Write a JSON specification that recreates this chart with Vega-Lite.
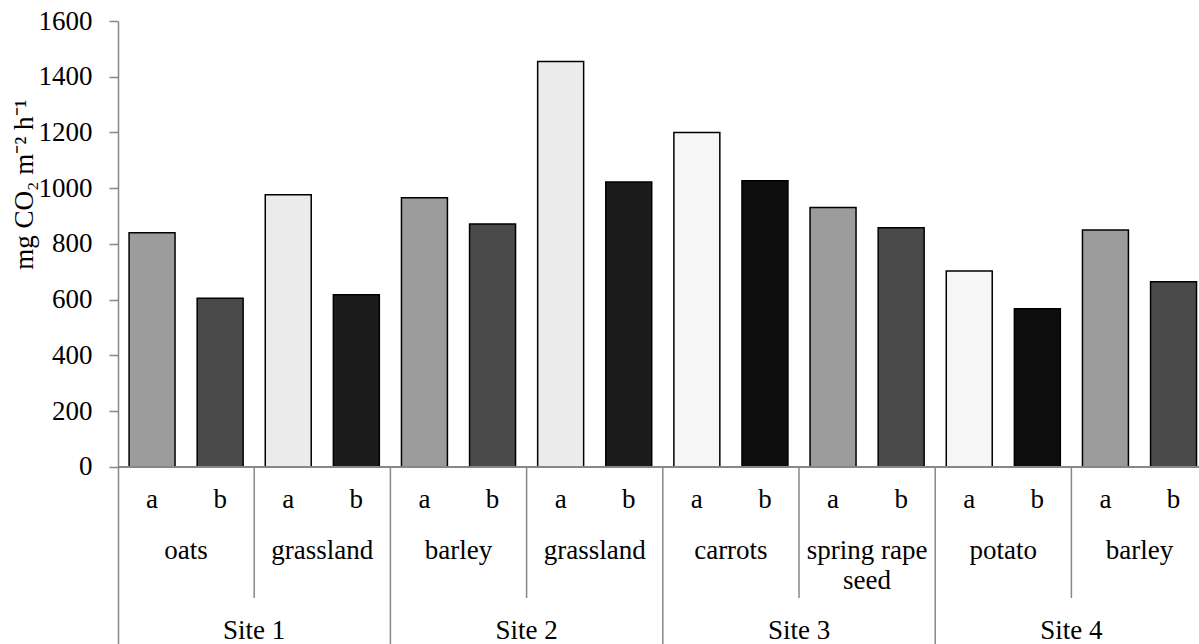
{
  "$schema": "https://vega.github.io/schema/vega-lite/v6.json",
  "width": 1081,
  "height": 623,
  "autosize": {"type": "none"},
  "padding": {"left": 118, "top": 21, "right": 0, "bottom": 0},
  "background": "white",
  "config": {
    "view": {"stroke": null},
    "font": "Liberation Serif",
    "text": {"font": "Liberation Serif", "fontSize": 27, "color": "black"}
  },
  "data": {
    "values": [
      {"id": 1, "site": "Site 1", "crop": "oats", "trt": "a", "value": 840},
      {"id": 2, "site": "Site 1", "crop": "oats", "trt": "b", "value": 605},
      {"id": 3, "site": "Site 1", "crop": "grassland", "trt": "a", "value": 977},
      {"id": 4, "site": "Site 1", "crop": "grassland", "trt": "b", "value": 618},
      {"id": 5, "site": "Site 2", "crop": "barley", "trt": "a", "value": 966},
      {"id": 6, "site": "Site 2", "crop": "barley", "trt": "b", "value": 872},
      {"id": 7, "site": "Site 2", "crop": "grassland", "trt": "a", "value": 1455},
      {"id": 8, "site": "Site 2", "crop": "grassland", "trt": "b", "value": 1022},
      {"id": 9, "site": "Site 3", "crop": "carrots", "trt": "a", "value": 1200},
      {"id": 10, "site": "Site 3", "crop": "carrots", "trt": "b", "value": 1027},
      {"id": 11, "site": "Site 3", "crop": "spring rape seed", "trt": "a", "value": 931},
      {"id": 12, "site": "Site 3", "crop": "spring rape seed", "trt": "b", "value": 858},
      {"id": 13, "site": "Site 4", "crop": "potato", "trt": "a", "value": 703},
      {"id": 14, "site": "Site 4", "crop": "potato", "trt": "b", "value": 568},
      {"id": 15, "site": "Site 4", "crop": "barley", "trt": "a", "value": 850},
      {"id": 16, "site": "Site 4", "crop": "barley", "trt": "b", "value": 665}
    ]
  },
  "encoding": {
    "y": {"field": "value", "type": "quantitative",
          "scale": {"domain": [-635, 1600], "nice": false, "zero": false},
          "axis": {
            "values": [0, 200, 400, 600, 800, 1000, 1200, 1400, 1600],
            "format": "d",
            "grid": false,
            "domainColor": "#878787", "domainWidth": 1.5,
            "tickColor": "#878787", "tickWidth": 1.5, "tickSize": 9,
            "labelFont": "Liberation Serif", "labelFontSize": 27, "labelColor": "black",
            "labelPadding": 17,
            "title": "mg CO₂ m⁻² h⁻¹",
            "titleFont": "Liberation Serif", "titleFontSize": 27, "titleFontWeight": "normal",
            "titleColor": "black", "titleAngle": -90, "titleAlign": "center",
            "titleBaseline": "alphabetic", "titleX": -86, "titleY": 163
          }}
  },
  "layer": [
    {
      "mark": {"type": "bar", "stroke": "black", "strokeWidth": 1.5, "width": {"band": 0.675}},
      "encoding": {
        "x": {"field": "id", "type": "ordinal", "axis": null,
              "scale": {"paddingInner": 0, "paddingOuter": 0, "range": [0, 1089.6]}},
        "fill": {
          "condition": [
            {"test": "datum.crop == 'grassland' && datum.trt == 'a'", "value": "#ebebeb"},
            {"test": "datum.crop == 'grassland'", "value": "#1c1c1c"},
            {"test": "(datum.crop == 'carrots' || datum.crop == 'potato') && datum.trt == 'a'", "value": "#f6f6f6"},
            {"test": "datum.crop == 'carrots' || datum.crop == 'potato'", "value": "#0e0e0e"},
            {"test": "datum.trt == 'a'", "value": "#9c9c9c"}
          ],
          "value": "#4a4a4a"
        }
      }
    },
    {
      "mark": {"type": "rule", "color": "#878787", "strokeWidth": 1.5},
      "encoding": {"y": {"datum": 0, "type": "quantitative"}}
    },
    {
      "transform": [{"filter": "datum.id % 4 == 3"}],
      "mark": {"type": "rule", "color": "#878787", "strokeWidth": 1.5},
      "encoding": {
        "x": {"field": "id", "type": "ordinal", "bandPosition": 0, "axis": null},
        "y": {"datum": 0, "type": "quantitative"},
        "y2": {"datum": -470}
      }
    },
    {
      "transform": [{"filter": "datum.id % 4 == 1 && datum.id > 1"}],
      "mark": {"type": "rule", "color": "#878787", "strokeWidth": 1.5},
      "encoding": {
        "x": {"field": "id", "type": "ordinal", "bandPosition": 0, "axis": null},
        "y": {"datum": 0, "type": "quantitative"},
        "y2": {"datum": -635}
      }
    },
    {
      "mark": {"type": "text", "baseline": "alphabetic", "align": "center"},
      "encoding": {
        "x": {"field": "id", "type": "ordinal", "axis": null},
        "y": {"datum": -147, "type": "quantitative"},
        "text": {"field": "trt"}
      }
    },
    {
      "transform": [
        {"filter": "datum.trt == 'a'"},
        {"calculate": "datum.crop == 'spring rape seed' ? ['spring rape', 'seed'] : datum.crop", "as": "label"}
      ],
      "mark": {"type": "text", "baseline": "alphabetic", "align": "center", "lineHeight": 30},
      "encoding": {
        "x": {"field": "id", "type": "ordinal", "bandPosition": 1, "axis": null},
        "y": {"datum": -330, "type": "quantitative"},
        "text": {"field": "label"}
      }
    },
    {
      "transform": [{"filter": "datum.id % 4 == 2"}],
      "mark": {"type": "text", "baseline": "alphabetic", "align": "center"},
      "encoding": {
        "x": {"field": "id", "type": "ordinal", "bandPosition": 1, "axis": null},
        "y": {"datum": -617, "type": "quantitative"},
        "text": {"field": "site"}
      }
    }
  ]
}
